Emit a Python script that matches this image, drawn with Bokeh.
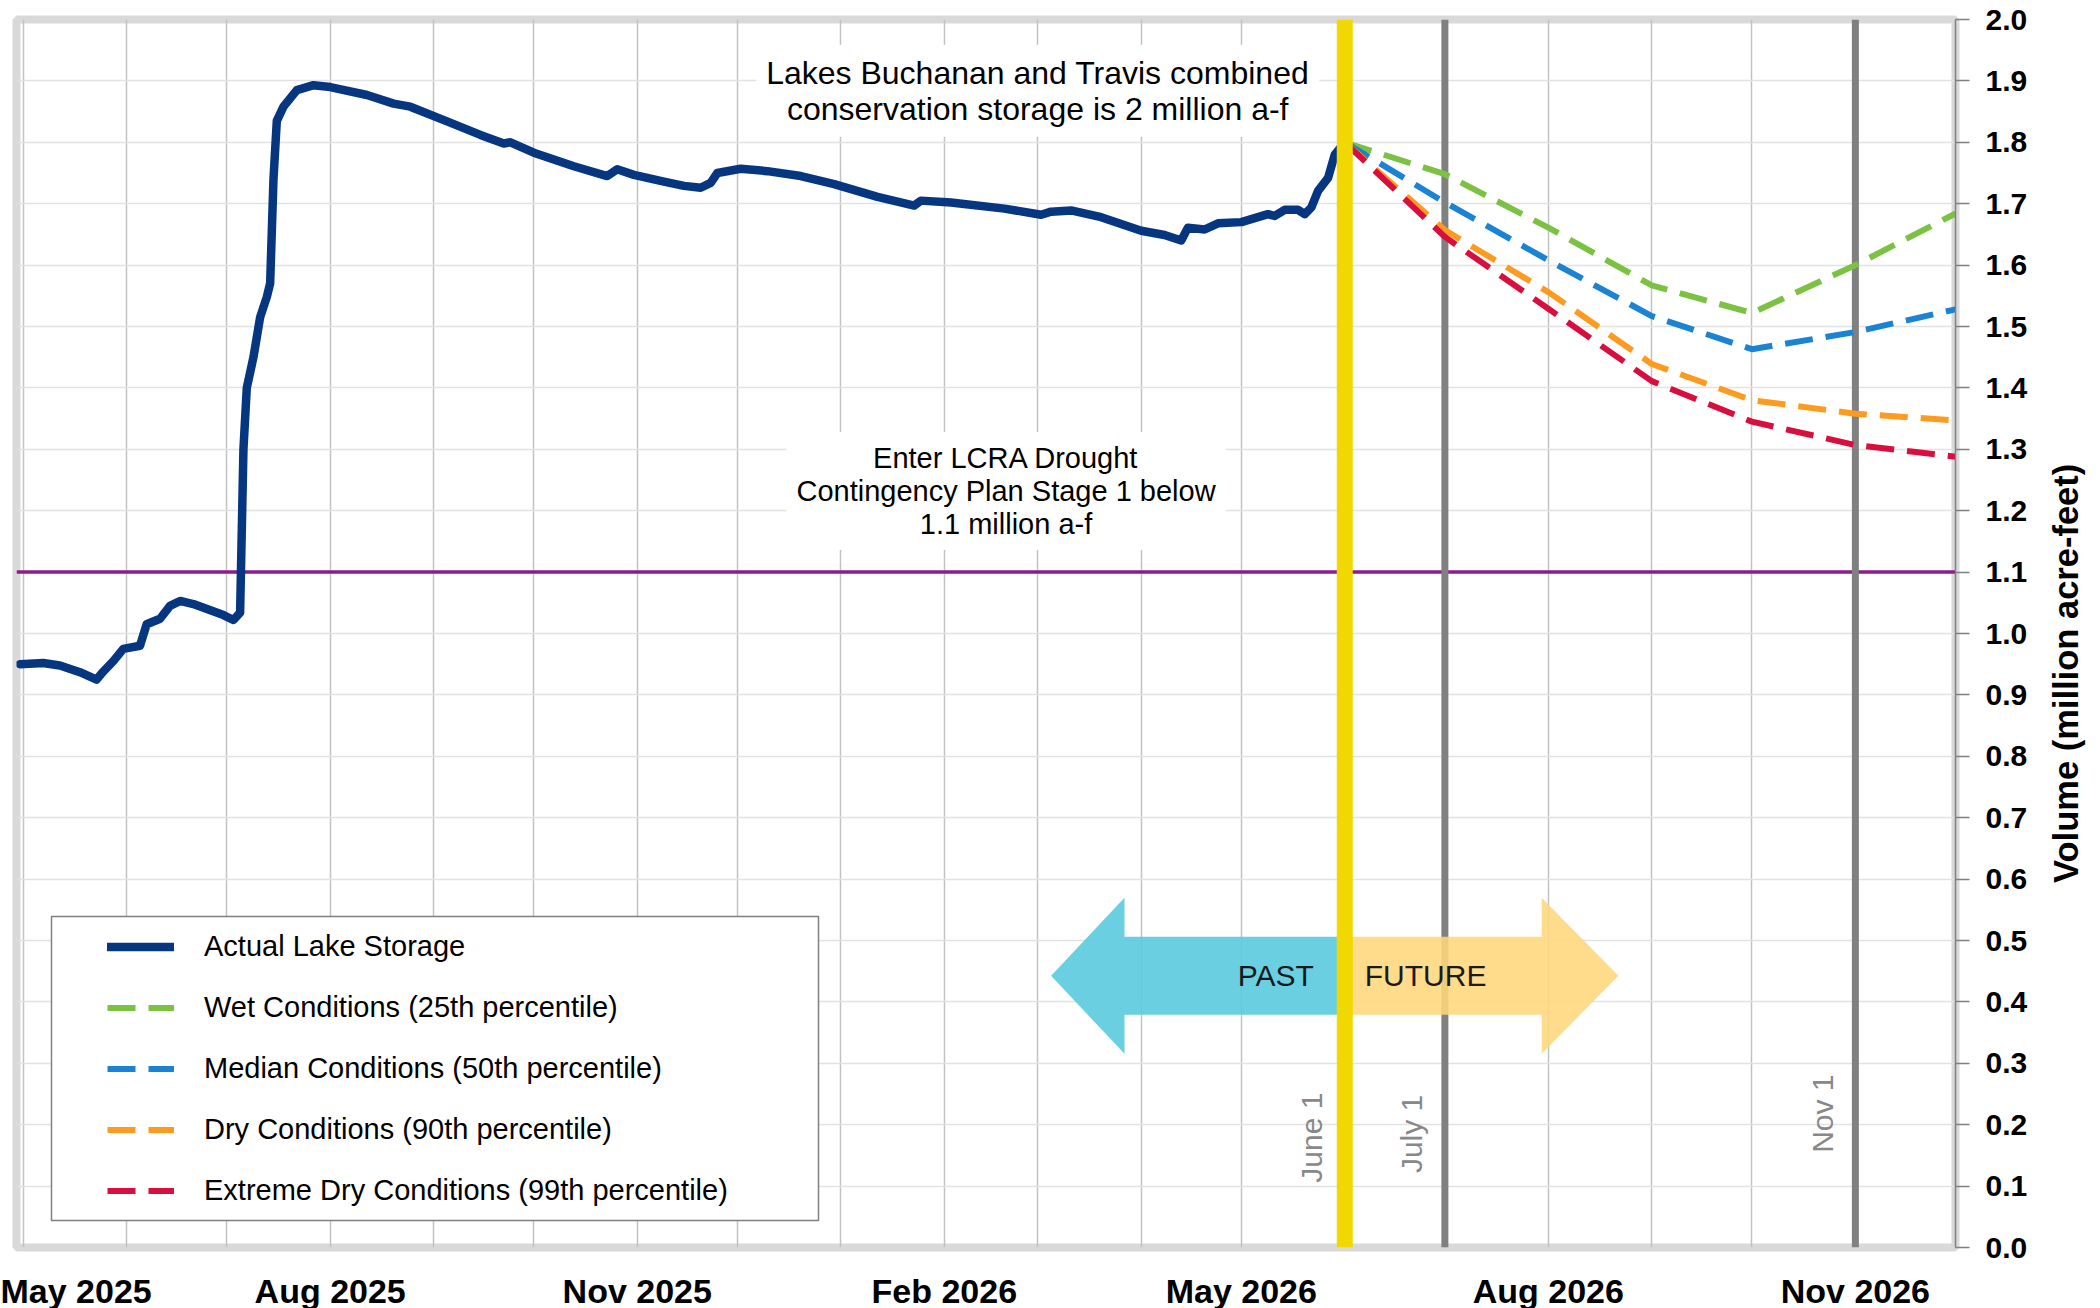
import math
import pandas as pd
from bokeh.plotting import figure
from bokeh.layouts import row
from bokeh.models import (Range1d, FixedTicker, DatetimeTickFormatter, PrintfTickFormatter,
                          Span, Label, BoxAnnotation, Legend, LegendItem, ColumnDataSource)
from bokeh.core.properties import value
from bokeh.embed import file_html
from bokeh.resources import INLINE

FONT = "Liberation Sans"

# ---------------- data ----------------
actual_dates = [
    "2025-04-30", "2025-05-07", "2025-05-12", "2025-05-18", "2025-05-23", "2025-05-25", "2025-05-28", "2025-05-31",
    "2025-06-05", "2025-06-07", "2025-06-11", "2025-06-14", "2025-06-17", "2025-06-21", "2025-06-30", "2025-07-03",
    "2025-07-05", "2025-07-06", "2025-07-07", "2025-07-09", "2025-07-11", "2025-07-13", "2025-07-14", "2025-07-15",
    "2025-07-16", "2025-07-18", "2025-07-22", "2025-07-27", "2025-08-01", "2025-08-12", "2025-08-20", "2025-08-25",
    "2025-09-05", "2025-09-15", "2025-09-22", "2025-09-24", "2025-10-01", "2025-10-13", "2025-10-23", "2025-10-26",
    "2025-10-31", "2025-11-09", "2025-11-15", "2025-11-20", "2025-11-23", "2025-11-25", "2025-12-02", "2025-12-10",
    "2025-12-20", "2025-12-30", "2026-01-12", "2026-01-23", "2026-01-25", "2026-02-03", "2026-02-19", "2026-03-02",
    "2026-03-05", "2026-03-11", "2026-03-20", "2026-04-01", "2026-04-08", "2026-04-13", "2026-04-15", "2026-04-20",
    "2026-04-24", "2026-05-01", "2026-05-09", "2026-05-11", "2026-05-14", "2026-05-18", "2026-05-20", "2026-05-22",
    "2026-05-24", "2026-05-27", "2026-05-29", "2026-06-01",
]
actual_values = [
    0.950, 0.952, 0.948, 0.937, 0.925, 0.938, 0.955, 0.975,
    0.980, 1.015, 1.024, 1.045, 1.053, 1.048, 1.030, 1.022,
    1.034, 1.300, 1.400, 1.450, 1.515, 1.548, 1.570, 1.740,
    1.835, 1.858, 1.885, 1.893, 1.890, 1.877, 1.863, 1.858,
    1.834, 1.812, 1.798, 1.800, 1.783, 1.761, 1.745, 1.756,
    1.747, 1.736, 1.729, 1.726, 1.734, 1.750, 1.757, 1.753,
    1.745, 1.732, 1.711, 1.697, 1.705, 1.702, 1.692, 1.682,
    1.687, 1.689, 1.678, 1.656, 1.649, 1.640, 1.661, 1.658,
    1.668, 1.670, 1.683, 1.680, 1.690, 1.690, 1.683, 1.694,
    1.721, 1.742, 1.780, 1.800,
]

forecast_dates = ["2026-06-01", "2026-07-01", "2026-08-01", "2026-09-01",
                  "2026-10-01", "2026-11-01", "2026-12-01"]
wet_values = [1.80, 1.748, 1.661, 1.567, 1.522, 1.600, 1.684]
median_values = [1.80, 1.702, 1.608, 1.517, 1.463, 1.491, 1.528]
dry_values = [1.80, 1.657, 1.556, 1.439, 1.380, 1.358, 1.347]
extreme_values = [1.80, 1.646, 1.529, 1.411, 1.345, 1.307, 1.288]

series_labels = ["Actual Lake Storage", "Wet Conditions (25th percentile)",
                 "Median Conditions (50th percentile)", "Dry Conditions (90th percentile)",
                 "Extreme Dry Conditions (99th percentile)"]

y_title = "Volume (million acre-feet)"
drought_level = 1.1
today = "2026-06-01"
marker_dates = ["2026-07-01", "2026-11-01"]
date_label_x = ["2026-06-01", "2026-07-01", "2026-11-01"]
date_label_y = [0.179, 0.185, 0.218]
date_label_text = ["June 1", "July 1", "Nov 1"]

# PAST / FUTURE arrows (dates and levels)
arrow_level = 0.4425
arrow_shaft_half = 0.0635
arrow_head_half = 0.127
past_tip, past_head_back = "2026-03-05", "2026-03-27"
future_head_back, future_tip = "2026-07-30", "2026-08-22"

y_ticks = [i / 10 for i in range(21)]
grid_months = pd.date_range("2025-05-01", "2026-12-01", freq="MS")
label_months = grid_months[::3]


def ms(d):
    return pd.Timestamp(d).value / 1e6


# ---------------- main figure ----------------
p = figure(x_axis_type="datetime", y_axis_location="right",
           frame_width=1939, frame_height=1228,
           min_border_left=16, min_border_top=19, min_border_right=90, min_border_bottom=53,
           x_range=Range1d(pd.Timestamp("2025-04-29"), pd.Timestamp("2026-12-01")),
           y_range=Range1d(0, 2.0),
           output_backend="svg", toolbar_location=None,
           background_fill_color="white", border_fill_color="white")

p.outline_line_color = "#d9d9d9"
p.outline_line_width = 8

p.xgrid.ticker = FixedTicker(ticks=[ms(d) for d in grid_months])
p.xgrid.grid_line_color = "#c2c2c2"
p.xgrid.grid_line_width = 1.5
p.ygrid.ticker = FixedTicker(ticks=y_ticks)
p.ygrid.grid_line_color = "#e2e2e2"
p.ygrid.grid_line_width = 1.5

fmt = "%b %Y"
p.xaxis.ticker = FixedTicker(ticks=[ms(d) for d in label_months])
p.xaxis.formatter = DatetimeTickFormatter(days=fmt, months=fmt, years=fmt, hours=fmt,
                                          minutes=fmt, seconds=fmt)
p.xaxis.axis_line_color = None
p.xaxis.major_tick_line_color = None
p.xaxis.minor_tick_line_color = None
p.xaxis.major_label_text_font = FONT
p.xaxis.major_label_text_font_size = "34px"
p.xaxis.major_label_text_font_style = "bold"
p.xaxis.major_label_text_color = "#000000"
p.xaxis.major_label_standoff = 18

yax = p.yaxis[0]
yax.ticker = FixedTicker(ticks=y_ticks)
yax.formatter = PrintfTickFormatter(format="%.1f")
yax.axis_line_color = "#808080"
yax.axis_line_width = 1.5
yax.major_tick_line_color = "#808080"
yax.major_tick_line_width = 1.5
yax.major_tick_out = 14
yax.major_tick_in = 0
yax.minor_tick_line_color = None
yax.major_label_text_font = FONT
yax.major_label_text_font_size = "30px"
yax.major_label_text_font_style = "bold"
yax.major_label_text_color = "#000000"
yax.major_label_standoff = 16

# reference lines
p.add_layout(Span(location=drought_level, dimension="width", line_color="#8e1b8e",
                  line_width=3.5, level="underlay"))
for d in marker_dates:
    p.add_layout(Span(location=ms(d), dimension="height", line_color="#808080",
                      line_width=7, level="underlay"))

# arrows
c, sh, hh = arrow_level, arrow_shaft_half, arrow_head_half
past_x = pd.to_datetime([past_tip, past_head_back, past_head_back, today, today,
                         past_head_back, past_head_back])
past_y = [c, c + hh, c + sh, c + sh, c - sh, c - sh, c - hh]
p.patch(past_x, past_y, fill_color="#5ecbe0", fill_alpha=0.92, line_color=None)
fut_x = pd.to_datetime([today, future_head_back, future_head_back, future_tip,
                        future_head_back, future_head_back, today])
fut_y = [c + sh, c + sh, c + hh, c, c - hh, c - sh, c - sh]
p.patch(fut_x, fut_y, fill_color="#ffd67c", fill_alpha=0.88, line_color=None)

# forecast lines
fx = pd.to_datetime(forecast_dates)
dash = "28 13"
r_wet = p.line(fx, wet_values, line_color="#7cc242", line_width=6, line_dash=dash)
r_med = p.line(fx, median_values, line_color="#1a83d3", line_width=6, line_dash=dash)
r_dry = p.line(fx, dry_values, line_color="#fd9a20", line_width=6, line_dash=dash)
r_ext = p.line(fx, extreme_values, line_color="#d80f3e", line_width=6, line_dash=dash)

r_act = p.line(pd.to_datetime(actual_dates), actual_values, line_color="#06367f",
               line_width=8.5, line_join="round", line_cap="round")

# rotated date labels
src = ColumnDataSource(dict(x=pd.to_datetime(date_label_x), y=date_label_y, t=date_label_text))
p.text(x="x", y="y", text="t", source=src, angle=math.pi / 2, x_offset=-33,
       text_align="center", text_baseline="middle", text_color="#888888",
       text_font=value(FONT), text_font_size="30px")

# today line
p.add_layout(Span(location=ms(today), dimension="height", line_color="#f0d800", line_width=16))

# annotations
p.add_layout(Label(x=ms("2026-03-01"), y=1.884,
                   text="Lakes Buchanan and Travis combined\nconservation storage is 2 million a-f",
                   text_align="center", text_baseline="middle", text_font=FONT,
                   text_font_size="32px", text_color="#000000", text_line_height=1.0,
                   background_fill_color="white", padding=10))
p.add_layout(Label(x=ms("2026-02-19 12:00"), y=1.232,
                   text="Enter LCRA Drought\nContingency Plan Stage 1 below\n1.1 million a-f",
                   text_align="center", text_baseline="middle", text_font=FONT,
                   text_font_size="29px", text_color="#000000", text_line_height=1.03,
                   background_fill_color="white", padding=10))
p.add_layout(Label(x=ms(today), y=arrow_level, x_offset=-31, text="PAST", text_align="right",
                   text_baseline="middle", text_font=FONT, text_font_size="30px",
                   text_color="#1a1a1a"))
p.add_layout(Label(x=ms(today), y=arrow_level, x_offset=20, text="FUTURE", text_align="left",
                   text_baseline="middle", text_font=FONT, text_font_size="30px",
                   text_color="#1a1a1a"))

# legend
p.add_layout(BoxAnnotation(left=35, right=802, top=331, bottom=27,
                           left_units="screen", right_units="screen",
                           top_units="screen", bottom_units="screen",
                           fill_color="white", fill_alpha=1.0,
                           line_color="#808080", line_width=1.5, line_alpha=1.0))
legend = Legend(items=[LegendItem(label=lab, renderers=[r]) for lab, r in
                       zip(series_labels, [r_act, r_wet, r_med, r_dry, r_ext])],
                location=(91, 36), orientation="vertical", padding=0, margin=0,
                spacing=20, glyph_width=67, glyph_height=41, label_height=41,
                label_standoff=30, label_text_font=FONT, label_text_font_size="29px",
                label_text_color="#000000", border_line_color=None,
                background_fill_alpha=0.0)
p.add_layout(legend)

# ---------------- narrow strip carrying the vertical axis title ----------------
strip_w, strip_h = 50, 1300
q = figure(width=strip_w, height=strip_h, x_range=Range1d(0, strip_w),
           y_range=Range1d(0, strip_h), x_axis_location=None, y_axis_location=None,
           min_border=0, output_backend="svg", toolbar_location=None,
           background_fill_color="white", border_fill_color="white")
q.outline_line_color = None
q.grid.visible = False
q.text(x=[20.5], y=[strip_h - 699], text=[y_title], angle=math.pi / 2,
       text_align="center", text_baseline="middle", text_color="#000000",
       text_font=value(FONT), text_font_size="34.5px", text_font_style="bold")

layout = row(p, q, spacing=0)
open("out.html", "w").write(file_html(layout, INLINE))
